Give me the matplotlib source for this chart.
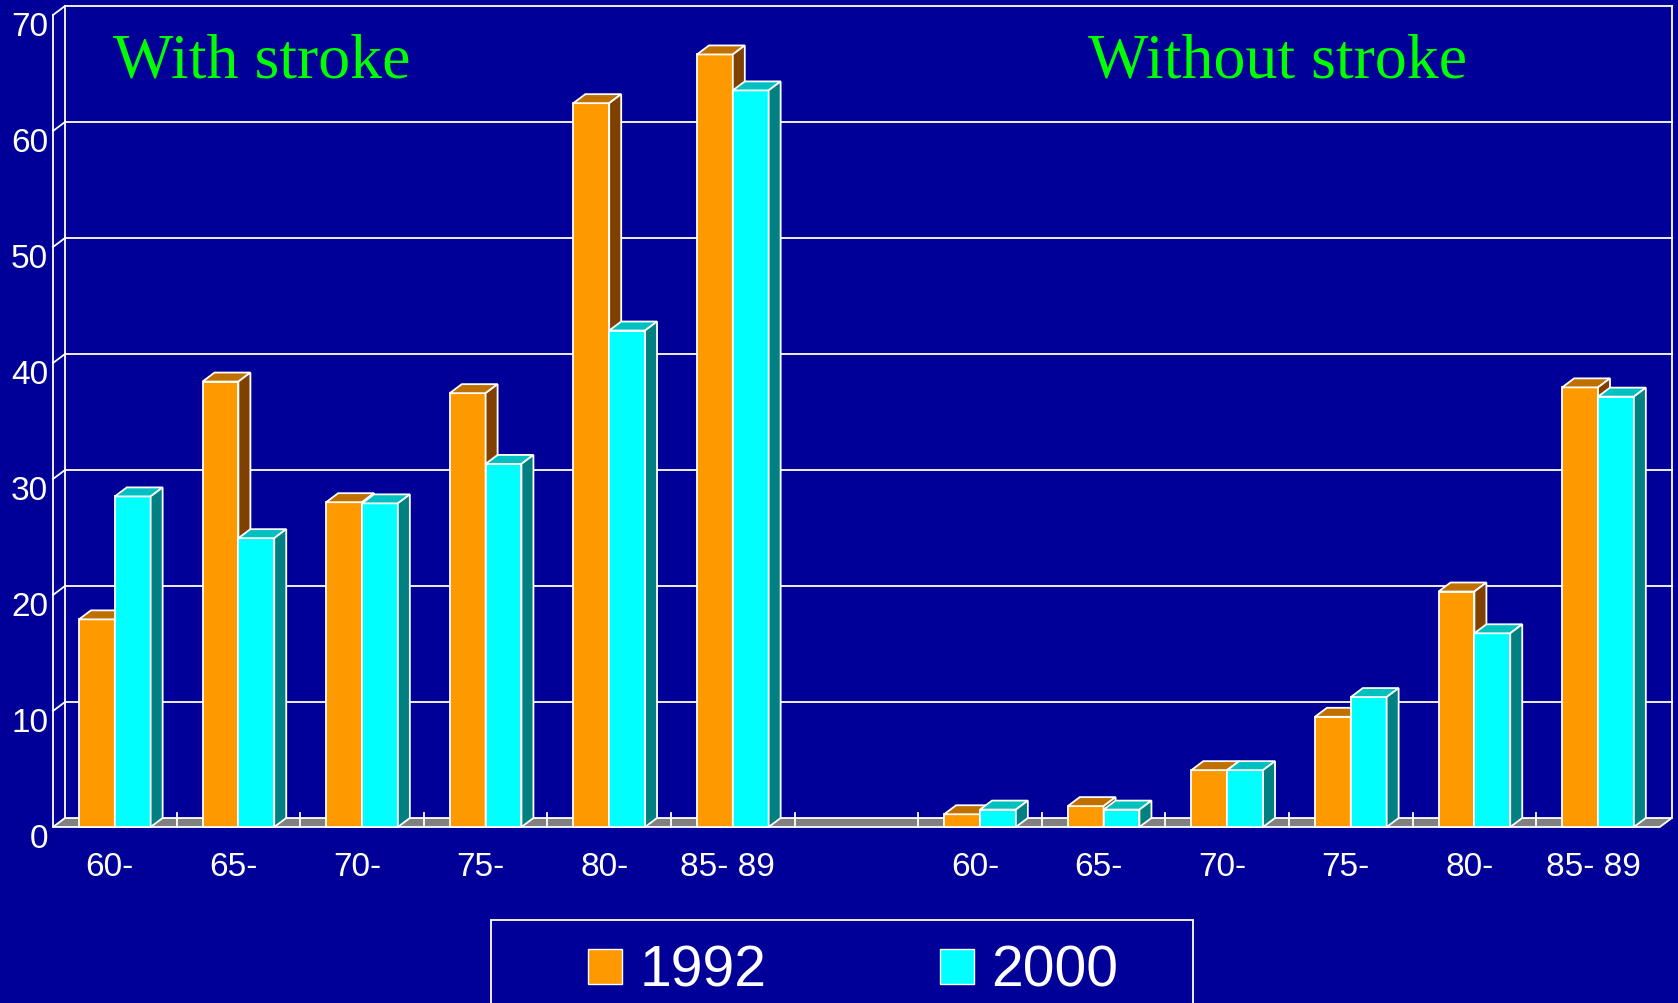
import matplotlib
matplotlib.use("Agg")
import matplotlib.pyplot as plt
from matplotlib.patches import Polygon, Rectangle

ages = ["60-", "65-", "70-", "75-", "80-", "85- 89"]
with_1992 = [17.9, 38.4, 28.0, 37.4, 62.4, 66.6]
with_2000 = [28.5, 24.9, 27.9, 31.3, 42.8, 63.5]
without_1992 = [1.1, 1.8, 4.9, 9.5, 20.3, 37.9]
without_2000 = [1.5, 1.5, 4.9, 11.2, 16.7, 37.1]
yticks = [0, 10, 20, 30, 40, 50, 60, 70]
years = ["1992", "2000"]

bg = "#000099"
orange = ("#FF9900", "#C07000", "#7F4000")   # front, top, side
cyan = ("#00FFFF", "#00C0C0", "#008080")

W, H = 1678, 1004
fig = plt.figure(figsize=(W / 100, H / 100), dpi=100, facecolor=bg)
nslot = 13
slot_px = 123.6
ax = fig.add_axes([53 / W, 176 / H, nslot * slot_px / W, 812 / H])
ax.set_xlim(0, nslot)
ax.set_ylim(0, 70)
ax.axis("off")
ax.set_facecolor(bg)

# depth offset of the pseudo-3d box, in data units
dx = 12 / slot_px
dy = 9 / 11.6
lw = 1.3

# back wall + gridlines
for v in yticks[1:]:
    ax.plot([dx, nslot + dx], [v + dy, v + dy], color="white", lw=lw, zorder=1, clip_on=False)
    ax.plot([0, dx], [v, v + dy], color="white", lw=lw, zorder=1, clip_on=False)
ax.plot([dx, dx], [dy, 70 + dy], color="white", lw=lw, zorder=1, clip_on=False)
ax.plot([nslot + dx, nslot + dx], [dy, 70 + dy], color="white", lw=lw, zorder=1, clip_on=False)
ax.plot([0, 0], [0, 70], color="white", lw=lw, zorder=1, clip_on=False)

# floor
floor = Polygon([(0, 0), (nslot, 0), (nslot + dx, dy), (dx, dy)], closed=True,
                facecolor="#808080", edgecolor="white", lw=lw, zorder=2, clip_on=False)
ax.add_patch(floor)
for k in range(1, nslot):
    ax.plot([k, k], [0, dy + 0.4], color="white", lw=lw, zorder=2, clip_on=False)

z = [3]


def bar3d(x0, w, h, cols):
    z[0] += 1
    ax.bar(x0, h, width=w, align="edge", color=cols[0], edgecolor="white",
           linewidth=lw, zorder=z[0], clip_on=False)
    top = [(x0, h), (x0 + dx, h + dy), (x0 + w + dx, h + dy), (x0 + w, h)]
    side = [(x0 + w, 0), (x0 + w, h), (x0 + w + dx, h + dy), (x0 + w + dx, dy)]
    ax.add_patch(Polygon(top, closed=True, facecolor=cols[1], edgecolor="white",
                         lw=lw, zorder=z[0], clip_on=False))
    ax.add_patch(Polygon(side, closed=True, facecolor=cols[2], edgecolor="white",
                         lw=lw, zorder=z[0], clip_on=False))


bw = 0.29
panels = [(0, with_1992, with_2000), (7, without_1992, without_2000)]
for start, a, b in panels:
    for i in range(len(ages)):
        c = start + i + 0.5
        bar3d(c - bw, bw, a[i], orange)
        bar3d(c, bw, b[i], cyan)
        ax.text(c - 0.04, -3.4, ages[i], color="white", fontsize=24,
                family="Liberation Sans", ha="center", va="center")

for v in yticks:
    ax.text(-0.04, v - 1.0, str(v), color="white", fontsize=24,
            family="Liberation Sans", ha="right", va="center", clip_on=False)

# panel titles
fig.text(262 / W, 1 - 77 / H, "With stroke", color="#00FF00", fontsize=46,
         family="Liberation Serif", ha="center", va="baseline")
fig.text(1278 / W, 1 - 77 / H, "Without stroke", color="#00FF00", fontsize=46,
         family="Liberation Serif", ha="center", va="baseline")

# legend box
fig.patches.append(Rectangle((491 / W, -10 / H), (1193 - 491) / W, (1014 - 921) / H,
                             transform=fig.transFigure, facecolor="none",
                             edgecolor="white", lw=1.3))
for x_sq, x_txt, col, lab in [(588, 640, orange[0], years[0]), (940, 991, cyan[0], years[1])]:
    fig.patches.append(Rectangle((x_sq / W, 1 - 985 / H), 34 / W, 35 / H,
                                 transform=fig.transFigure, facecolor=col,
                                 edgecolor="white", lw=1.0))
    fig.text(x_txt / W, 1 - 972 / H, lab, color="white", fontsize=41,
             family="Liberation Sans", ha="left", va="center")

fig.savefig("out.png", dpi=100, facecolor=bg)
